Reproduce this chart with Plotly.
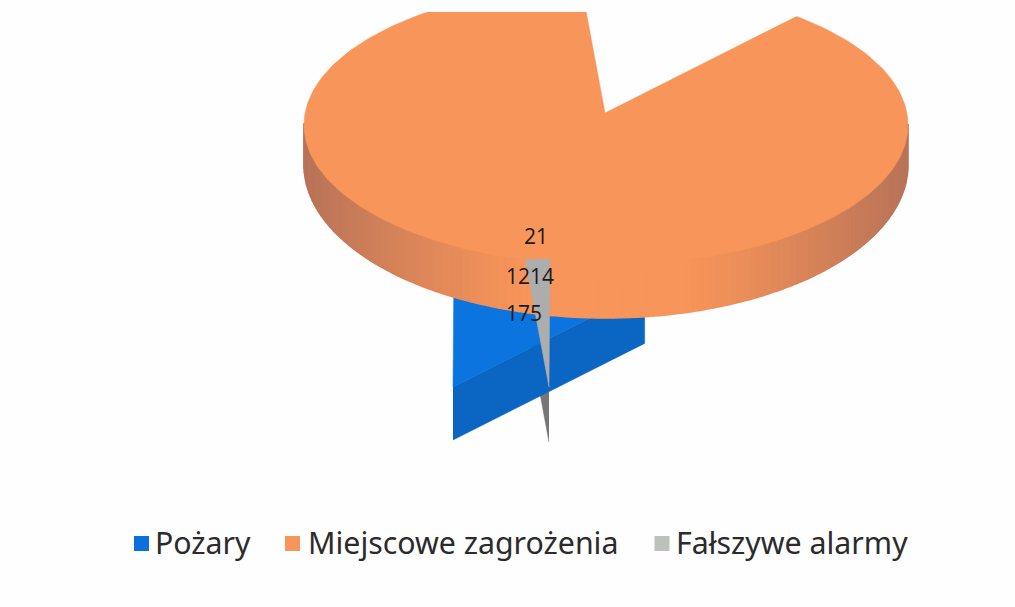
import numpy as np
import plotly.graph_objects as go

categories = ["Pożary", "Miejscowe zagrożenia", "Fałszywe alarmy"]
values = [175, 1214, 21]
legend_colors = ["#0B6FDC", "#F8955A", "#BDC0BD"]
label_xy = [(524, 313), (530, 276), (536, 236)]
legend_marker_x = [141.5, 292.5, 662]
legend_text_x = [155, 308, 676]
LEGEND_Y = 543.5
LEGEND_TEXT_Y = 546

# Drawing constants of the tilted pie (pixel-like axes)
CX, CY, A, B = 606, 125, 302, 140       # top face ellipse
APEX = (605, 113)                       # where the sectors meet
BOTTOM_CY, BOTTOM_B = 165, 153          # lower rim
SQUEEZE = 0.876                         # foreshortening of the far sectors
BLUE_SHIFT, GRAY_SHIFT = (-152, 274), (-56, 274)
DEPTH = 53
FACE, SIDE = np.array([0xF8, 0x95, 0x5A]), np.array([0xB8, 0x73, 0x58])

total = sum(values)
sweep = [v / total * 360 for v in values]
blue_end = sweep[0] * SQUEEZE
gray_start = -sweep[2] * SQUEEZE


def rim(t):
    r = np.radians(t)
    return CX + A * np.sin(r), CY - B * np.cos(r)


def sector(t0, t1, shift=(0, 0)):
    ts = np.linspace(t0, t1, 240)
    x, y = rim(ts)
    return (
        np.r_[APEX[0], x, APEX[0]] + shift[0],
        np.r_[APEX[1], y, APEX[1]] + shift[1],
    )


def poly(x, y, color, lw=0.5):
    return go.Scatter(x=x, y=y, mode="lines", fill="toself", fillcolor=color,
                      line=dict(color=color, width=lw), hoverinfo="skip", showlegend=False)


fig = go.Figure()

# Gray sector: radial wall
rx, ry = rim(gray_start)
fig.add_trace(poly(
    [APEX[0] + GRAY_SHIFT[0], rx + GRAY_SHIFT[0], rx + GRAY_SHIFT[0], APEX[0] + GRAY_SHIFT[0]],
    [APEX[1] + GRAY_SHIFT[1], ry + GRAY_SHIFT[1], ry + GRAY_SHIFT[1] + DEPTH + 2, APEX[1] + GRAY_SHIFT[1] + DEPTH + 2],
    "#767676"))

# Blue sector: radial wall and top face
rx, ry = rim(blue_end)
sx, sy = BLUE_SHIFT
fig.add_trace(poly(
    [APEX[0] + sx, rx + sx, rx + sx, APEX[0] + sx],
    [APEX[1] + sy, ry + sy, ry + sy + DEPTH, APEX[1] + sy + DEPTH],
    "#0A66C2"))
fig.add_trace(poly(*sector(0, blue_end, BLUE_SHIFT), "#0B74DE"))

# Orange outer wall, fading toward the front
phis = np.linspace(0, 180, 121)
for p0, p1 in zip(phis[:-1], phis[1:]):
    ph = np.radians([p0, p1])
    xs = CX + A * np.cos(ph)
    bot = BOTTOM_CY + BOTTOM_B * np.sin(ph)
    dx = np.mean(np.abs(np.cos(ph)))
    t = max(0.0, (dx - 0.25) / 0.75) ** 1.2
    c = (FACE + (SIDE - FACE) * t).astype(int)
    col = f"rgb({c[0]},{c[1]},{c[2]})"
    fig.add_trace(poly([xs[0], xs[1], xs[1], xs[0]], [CY - 1, CY - 1, bot[1], bot[0]], col, lw=1.5))

# Orange top face
fig.add_trace(poly(*sector(blue_end, 360 + gray_start), "#F8955A"))

# Gray top face sits over everything
fig.add_trace(poly(*sector(gray_start, 0, GRAY_SHIFT), "#ADADAD"))

# Legend entries
for name, col, mx, tx in zip(categories, legend_colors, legend_marker_x, legend_text_x):
    fig.add_trace(go.Scatter(x=[mx], y=[LEGEND_Y], mode="markers", name=name, showlegend=False,
                             marker=dict(symbol="square", size=15, color=col), hoverinfo="skip"))
    fig.add_trace(go.Scatter(x=[tx], y=[LEGEND_TEXT_Y], mode="text", name=name, showlegend=False,
                             text=[name], textposition="middle right",
                             textfont=dict(family="Noto Sans", size=30.3, color="#2B2B2B"),
                             hoverinfo="skip", cliponaxis=False))

for v, (lx, ly) in zip(values, label_xy):
    fig.add_annotation(x=lx, y=ly, text=str(v), showarrow=False,
                       font=dict(family="Open Sans", size=21, color="#1A1A1A"))

fig.update_layout(
    width=1015, height=607, margin=dict(l=0, r=0, t=12, b=0),
    paper_bgcolor="#FEFEFE", plot_bgcolor="#FEFEFE",
    xaxis=dict(range=[0, 1015], visible=False, fixedrange=True),
    yaxis=dict(range=[607, 12], visible=False, fixedrange=True),
)
fig.write_html("out.html", post_script="document.body.style.margin='0';", config={"displayModeBar": False})
